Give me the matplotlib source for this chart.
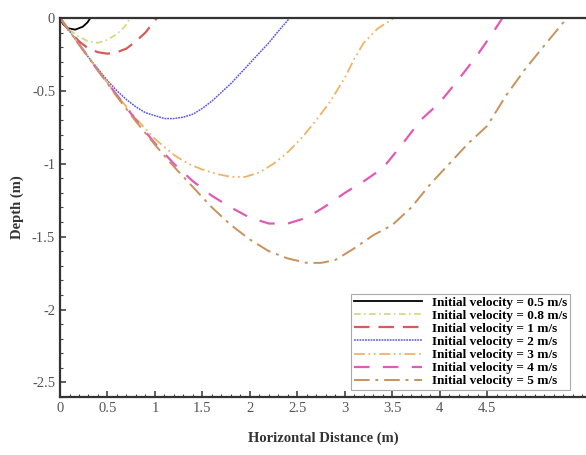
import matplotlib
matplotlib.use("Agg")
import matplotlib.pyplot as plt
from matplotlib.ticker import MultipleLocator, FixedLocator, FixedFormatter

plt.rcParams['font.family'] = ['Liberation Serif', 'DejaVu Serif']
plt.rcParams['axes.unicode_minus'] = False

# trajectories (x = horizontal distance, y = depth)
x_05 = [0, 0.03, 0.08, 0.16, 0.24, 0.29, 0.32]
y_05 = [0, -0.04, -0.07, -0.08, -0.06, -0.03, 0]

x_08 = [0, 0.1, 0.2, 0.3, 0.4, 0.5, 0.6, 0.68, 0.74]
y_08 = [0, -0.08, -0.13, -0.16, -0.17, -0.15, -0.11, -0.06, 0]

x_1 = [0, 0.1, 0.2, 0.3, 0.4, 0.5, 0.6, 0.7, 0.8, 0.9, 0.96, 1.02]
y_1 = [0, -0.09, -0.16, -0.21, -0.235, -0.245, -0.235, -0.21, -0.16, -0.1, -0.05, 0]

x_2 = [0, 0.1, 0.2, 0.3, 0.4, 0.5, 0.6, 0.7, 0.8, 0.9, 1.0, 1.1, 1.2, 1.3, 1.4,
       1.5, 1.6, 1.7, 1.8, 1.9, 2.0, 2.1, 2.2, 2.3, 2.42]
y_2 = [0, -0.09, -0.18, -0.27, -0.35, -0.43, -0.50, -0.56, -0.61, -0.65, -0.67, -0.69,
       -0.69, -0.68, -0.66, -0.62, -0.57, -0.51, -0.45, -0.38, -0.31, -0.24, -0.17, -0.09, 0]

x_3 = [0, 0.2, 0.4, 0.6, 0.8, 1.0, 1.2, 1.35, 1.5, 1.65, 1.8, 1.95, 2.1, 2.25,
       2.4, 2.55, 2.7, 2.85, 3.0, 3.1, 3.2, 3.35, 3.52]
y_3 = [0, -0.18, -0.36, -0.53, -0.69, -0.83, -0.94, -1.0, -1.04, -1.07, -1.09, -1.09,
       -1.06, -1.0, -0.92, -0.82, -0.70, -0.57, -0.41, -0.28, -0.17, -0.07, 0]

x_4 = [0, 0.2, 0.4, 0.6, 0.8, 1.0, 1.2, 1.4, 1.6, 1.8, 2.0, 2.2, 2.4, 2.6, 2.8,
       3.0, 3.2, 3.4, 3.6, 3.8, 4.0, 4.2, 4.4, 4.56, 4.66]
y_4 = [0, -0.18, -0.36, -0.53, -0.70, -0.86, -1.0, -1.12, -1.22, -1.30, -1.37, -1.41,
       -1.41, -1.37, -1.29, -1.20, -1.12, -1.03, -0.87, -0.70, -0.58, -0.42, -0.25, -0.1, 0]

x_5 = [0, 0.2, 0.4, 0.6, 0.8, 1.0, 1.2, 1.4, 1.6, 1.8, 2.0, 2.2, 2.4, 2.6, 2.75,
       2.9, 3.1, 3.3, 3.5, 3.7, 3.9, 4.1, 4.3, 4.5, 4.7, 4.9, 5.1, 5.34]
y_5 = [0, -0.18, -0.36, -0.54, -0.71, -0.87, -1.02, -1.16, -1.30, -1.42, -1.52, -1.60,
       -1.65, -1.68, -1.68, -1.66, -1.58, -1.49, -1.42, -1.30, -1.14, -1.0, -0.86, -0.74,
       -0.53, -0.35, -0.19, 0]

labels = ["Initial velocity = 0.5 m/s", "Initial velocity = 0.8 m/s",
          "Initial velocity = 1 m/s", "Initial velocity = 2 m/s",
          "Initial velocity = 3 m/s", "Initial velocity = 4 m/s",
          "Initial velocity = 5 m/s"]

x_ticks = [0, 0.5, 1, 1.5, 2, 2.5, 3, 3.5, 4, 4.5]
x_tick_labels = ["0", "0.5", "1", "1.5", "2", "2.5", "3", "3.5", "4", "4.5"]
y_ticks = [0, -0.5, -1, -1.5, -2, -2.5]
y_tick_labels = ["0", "-0.5", "-1", "-1.5", "-2", "-2.5"]

fig = plt.figure(figsize=(5.86, 4.55), dpi=100)
ax = fig.add_axes([0.1024, 0.1275, 0.8976, 0.833])

ax.plot(x_05, y_05, color='black', linestyle='-', linewidth=1.3, label=labels[0])
ax.plot(x_08, y_08, color='#c8dc78', linestyle=(0, (4, 2, 1, 2)), linewidth=1.2, label=labels[1])
ax.plot(x_1, y_1, color='#d85a5a', linestyle=(0, (7, 4)), linewidth=1.6, label=labels[2])
ax.plot(x_2, y_2, color='#5a5ae6', linestyle=(0, (1.2, 0.6)), linewidth=1.1, label=labels[3])
ax.plot(x_3, y_3, color='#f2b266', linestyle=(0, (6, 2, 1, 2, 1, 2)), linewidth=1.3, label=labels[4])
ax.plot(x_4, y_4, color='#e05ab8', linestyle=(0, (7, 6)), linewidth=1.6, label=labels[5])
ax.plot(x_5, y_5, color='#c8925a', linestyle=(0, (8, 3, 1.5, 3)), linewidth=1.4, label=labels[6])

ax.set_xlim(0, 5.54)
ax.set_ylim(-2.6, 0)

ax.xaxis.set_major_locator(FixedLocator(x_ticks))
ax.xaxis.set_major_formatter(FixedFormatter(x_tick_labels))
ax.yaxis.set_major_locator(FixedLocator(y_ticks))
ax.yaxis.set_major_formatter(FixedFormatter(y_tick_labels))
ax.xaxis.set_minor_locator(MultipleLocator(0.1))
ax.yaxis.set_minor_locator(MultipleLocator(0.1))
ax.tick_params(which='both', direction='in', top=False, right=False,
               colors='#444444', labelcolor='#555555', labelsize=10.5)
ax.tick_params(which='major', length=4, width=1.2)
ax.tick_params(which='minor', length=2, width=0.8)

for side in ['left', 'bottom', 'top']:
    ax.spines[side].set_linewidth(1.6)
    ax.spines[side].set_color('#333333')
ax.spines['right'].set_visible(False)

ax.set_xlabel("Horizontal Distance (m)", fontsize=10.5, fontweight='bold', color='#333333', labelpad=12)
ax.set_ylabel("Depth (m)", fontsize=10.5, fontweight='bold', color='#333333', labelpad=6)

leg = fig.legend(loc='upper left', bbox_to_anchor=(0.588, 0.368),
                 prop={'weight': 'bold', 'size': 9.5}, handlelength=5.2,
                 labelspacing=0.06, borderpad=0.2, handletextpad=0.75,
                 fancybox=False, framealpha=1, edgecolor='#aaaaaa')
leg.get_frame().set_linewidth(0.8)

fig.savefig("out.png", dpi=100)
